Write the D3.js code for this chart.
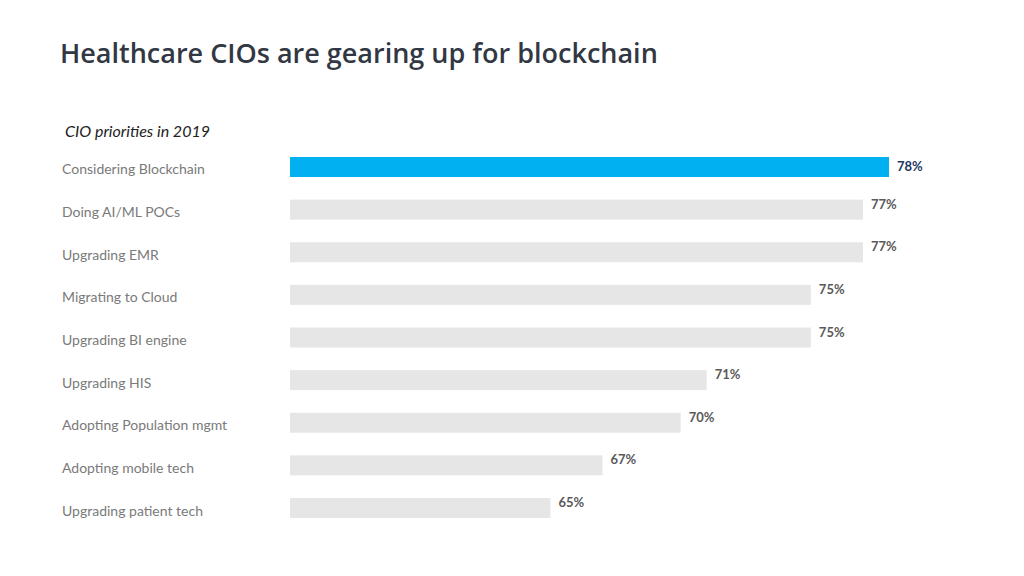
<!DOCTYPE html>
<html><head><meta charset="utf-8">
<script src="https://cdn.jsdelivr.net/npm/d3@7"></script>
<style>body{margin:0;background:#fff;} svg{display:block;}</style>
</head><body>
<svg id="chart" width="1024" height="576"></svg>
<script>
const categories = ["Considering Blockchain","Doing AI/ML POCs","Upgrading EMR","Migrating to Cloud","Upgrading BI engine","Upgrading HIS","Adopting Population mgmt","Adopting mobile tech","Upgrading patient tech"];
const values = [78,77,77,75,75,71,70,67,65];
const highlight = ["Considering Blockchain"];
const title = "Healthcare CIOs are gearing up for blockchain";
const subtitle = "CIO priorities in 2019";

const svg = d3.select("#chart");
const font = "Lato, 'Open Sans', sans-serif";

const x = d3.scaleLinear().domain([55, 78]).range([290, 889]);
const y = d3.scaleBand().domain(categories).range([157, 518]).paddingInner(0.531).paddingOuter(0);

svg.append("text").attr("x", 60).attr("y", 63)
  .attr("font-family", "'Open Sans', sans-serif").attr("font-weight", 600).attr("font-size", 27)
  .attr("fill", "#323843").text(title);

svg.append("text").attr("x", 65).attr("y", 137)
  .attr("font-family", font).attr("font-style", "italic").attr("font-size", 16)
  .attr("fill", "#222").text(subtitle);

const data = categories.map((c, i) => ({c, v: values[i], hi: highlight.includes(c)}));

svg.selectAll("rect.bar").data(data).join("rect").attr("class", "bar")
  .attr("x", x(55)).attr("y", d => y(d.c))
  .attr("width", d => x(d.v) - x(55)).attr("height", y.bandwidth())
  .attr("fill", d => d.hi ? "#00b0f0" : "#e6e6e6");

svg.selectAll("text.cat").data(data).join("text").attr("class", "cat")
  .attr("x", 62).attr("y", d => y(d.c) + y.bandwidth() / 2 + 2)
  .attr("dominant-baseline", "central")
  .attr("font-family", font).attr("font-size", 14)
  .attr("fill", "#7a7a7a").text(d => d.c);

svg.selectAll("text.val").data(data).join("text").attr("class", "val")
  .attr("x", d => x(d.v) + 8)
  .attr("y", d => d.hi ? y(d.c) + y.bandwidth() / 2 - 1 : y(d.c) + 4)
  .attr("dominant-baseline", "central")
  .attr("font-family", font).attr("font-weight", 700).attr("font-size", 13)
  .attr("fill", d => d.hi ? "#1f3864" : "#595959").text(d => d.v + "%");
</script>
</body></html>
